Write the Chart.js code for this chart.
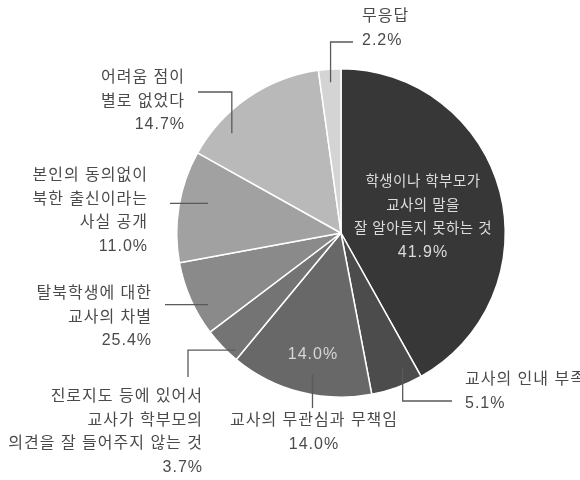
<!DOCTYPE html>
<html>
<head>
<meta charset="utf-8">
<script src="https://cdn.jsdelivr.net/npm/chart.js@4.4.1/dist/chart.umd.min.js"></script>
<style>
  html, body { margin: 0; background: #fff; }
  canvas { display: block; }
</style>
</head>
<body>
<canvas id="pieChart" width="580" height="480"></canvas>
<script>
// categories, clockwise from 12 o'clock
const categories = [
  ['학생이나 학부모가', '교사의 말을', '잘 알아듣지 못하는 것'],
  ['교사의 인내 부족'],
  ['교사의 무관심과 무책임'],
  ['진로지도 등에 있어서', '교사가 학부모의', '의견을 잘 들어주지 않는 것'],
  ['탈북학생에 대한', '교사의 차별'],
  ['본인의 동의없이', '북한 출신이라는', '사실 공개'],
  ['어려움 점이', '별로 없었다'],
  ['무응답']
];
const values = [41.9, 5.1, 14.0, 3.7, 7.4, 11.0, 14.7, 2.2];
// percent text as printed on the chart
const percentLabels = ['41.9%', '5.1%', '14.0%', '3.7%', '25.4%', '11.0%', '14.7%', '2.2%'];
const sliceColors = ['#373737', '#4c4c4c', '#686868', '#747474', '#8a8a8a', '#a1a1a1', '#b9b9b9', '#d4d4d4'];

// callout placement: t = position across slice, f = fraction of radius,
// route = leader shape, end = leader end, text anchor + alignment
const callouts = [
  { inside: true, textX: 423, textY: 182, align: 'center' },
  { t: 0.245, f: 0.9, route: 'vh', end: [452, 401], textX: 465, textY: 380, align: 'left' },
  { t: 0.44, f: 0.88, route: 'v', end: [0, 408], textX: 314, textY: 421, align: 'center', innerPct: [313, 355] },
  { t: 0.18, f: 0.96, route: 'hv', end: [188, 377], textX: 203, textY: 397, align: 'right' },
  { t: 0.33, f: 0.92, route: 'h', end: [165, 0], textX: 152, textY: 294, align: 'right' },
  { t: 0.58, f: 0.83, route: 'h', end: [170, 0], textX: 148, textY: 176, align: 'right' },
  { t: 0.25, f: 0.9, route: 'vh', end: [198, 92], textX: 185, textY: 78, align: 'right' },
  { t: 0.5, f: 0.92, route: 'vh', end: [353, 42], textX: 362, textY: 17, align: 'left' }
];

const lineGap = 23.5;
const outerFont = '16px "Liberation Sans", "Noto Sans CJK KR", sans-serif';
const innerFont = '14.5px "Liberation Sans", "Noto Sans CJK KR", sans-serif';

const calloutPlugin = {
  id: 'callouts',
  afterDatasetsDraw(chart) {
    const ctx = chart.ctx;
    const arcs = chart.getDatasetMeta(0).data;
    ctx.save();
    ctx.textBaseline = 'middle';
    arcs.forEach((arc, i) => {
      const c = callouts[i];
      const p = arc.getProps(['x', 'y', 'startAngle', 'endAngle', 'outerRadius'], true);
      const lines = [...categories[i], percentLabels[i]];

      if (!c.inside) {
        const a = p.startAngle + (p.endAngle - p.startAngle) * c.t;
        const sx = p.x + Math.cos(a) * p.outerRadius * c.f;
        const sy = p.y + Math.sin(a) * p.outerRadius * c.f;
        ctx.strokeStyle = '#5a5a5a';
        ctx.lineWidth = 1.3;
        ctx.beginPath();
        ctx.moveTo(sx, sy);
        if (c.route === 'h') ctx.lineTo(c.end[0], sy);
        if (c.route === 'v') ctx.lineTo(sx, c.end[1]);
        if (c.route === 'vh') { ctx.lineTo(sx, c.end[1]); ctx.lineTo(c.end[0], c.end[1]); }
        if (c.route === 'hv') { ctx.lineTo(c.end[0], sy); ctx.lineTo(c.end[0], c.end[1]); }
        ctx.stroke();
      }

      ctx.fillStyle = c.inside ? '#dcdcdc' : '#4a4a4a';
      ctx.textAlign = c.align;
      lines.forEach((txt, k) => {
        const isPct = k === lines.length - 1;
        ctx.font = c.inside && !isPct ? innerFont : outerFont;
        ctx.letterSpacing = c.inside && !isPct ? '0.5px' : '1px';
        ctx.fillText(txt, c.textX, c.textY + k * lineGap);
      });

      if (c.innerPct) {
        ctx.font = outerFont;
        ctx.letterSpacing = '1px';
        ctx.fillStyle = '#d6d6d6';
        ctx.textAlign = 'center';
        ctx.fillText(percentLabels[i], c.innerPct[0], c.innerPct[1]);
      }
    });
    ctx.restore();
  }
};

new Chart(document.getElementById('pieChart'), {
  type: 'pie',
  data: {
    labels: categories.map(l => l.join(' ')),
    datasets: [{
      data: values,
      backgroundColor: sliceColors,
      borderColor: '#ffffff',
      borderWidth: 1.5
    }]
  },
  options: {
    responsive: false,
    animation: false,
    layout: { padding: { left: 176, right: 74, top: 68, bottom: 82 } },
    plugins: { legend: { display: false }, tooltip: { enabled: false } }
  },
  plugins: [calloutPlugin]
});
</script>
</body>
</html>
